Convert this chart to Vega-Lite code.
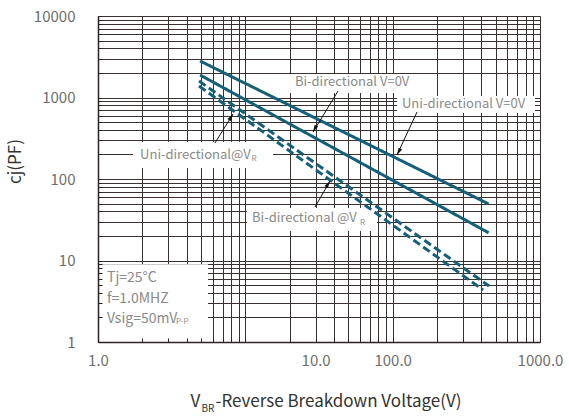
{
  "$schema": "https://vega.github.io/schema/vega-lite/v6.json",
  "width": 442,
  "height": 326,
  "autosize": "none",
  "padding": {"left": 98, "top": 16, "right": 29, "bottom": 74},
  "background": "white",
  "config": {"view": {"stroke": null}, "font": "Noto Sans CJK SC"},
  "datasets": {
    "curves": [
      {"series": "Uni-directional V=0V", "v": 4.93, "c": 2805},
      {"series": "Uni-directional V=0V", "v": 448, "c": 49.4},
      {"series": "Bi-directional V=0V", "v": 4.93, "c": 1888},
      {"series": "Bi-directional V=0V", "v": 448, "c": 21.9},
      {"series": "Uni-directional@VR", "v": 4.85, "c": 1593},
      {"series": "Uni-directional@VR", "v": 451, "c": 4.86},
      {"series": "Bi-directional @VR", "v": 4.85, "c": 1384},
      {"series": "Bi-directional @VR", "v": 411, "c": 4.35}
    ],
    "boxes": [
      {"box": "Bi-directional V=0V", "v1": 19.2, "v2": 139.6, "c1": 1943, "c2": 1136},
      {"box": "Uni-directional V=0V", "v1": 107, "v2": 925, "c1": 1043, "c2": 645},
      {"box": "Uni-directional@VR", "v1": 1.728, "v2": 15.4, "c1": 284.5, "c2": 136.4},
      {"box": "Bi-directional @VR", "v1": 10.26, "v2": 78.3, "c1": 44.1, "c2": 23.0},
      {"box": "conditions", "v1": 1, "v2": 5.58, "c1": 1, "c2": 9}
    ],
    "texts": [
      {"group": "ann", "text": "Bi-directional V=0V", "v": 21.7, "c": 1549},
      {"group": "ann", "text": "Uni-directional V=0V", "v": 115.7, "c": 832},
      {"group": "ann", "text": "Uni-directional@V", "v": 1.93, "c": 197},
      {"group": "ann", "text": "Bi-directional @V", "v": 11.1, "c": 33.2},
      {"group": "cond", "text": "Tj=25°C", "v": 1.151, "c": 6.1},
      {"group": "cond", "text": "f=1.0MHZ", "v": 1.151, "c": 3.37},
      {"group": "cond", "text": "Vsig=50mV", "v": 1.151, "c": 1.915},
      {"group": "sub", "text": "R", "v": 11.0, "c": 178.4},
      {"group": "sub", "text": "R", "v": 60.0, "c": 28.8},
      {"group": "sub", "text": "P-P", "v": 3.38, "c": 1.76}
    ],
    "arrows": [
      {"arrow": "a1", "dir": "down", "v1": 42.6, "c1": 1202, "v2": 28.8, "c2": 377},
      {"arrow": "a2", "dir": "down", "v1": 146.3, "c1": 664, "v2": 107, "c2": 197},
      {"arrow": "a3", "dir": "up", "v1": 6.22, "c1": 276.5, "v2": 8.25, "c2": 627},
      {"arrow": "a4", "dir": "up", "v1": 29.7, "c1": 45.3, "v2": 37.6, "c2": 94.5}
    ]
  },
  "resolve": {"axis": {"x": "independent", "y": "independent"}},
  "layer": [
    {
      "data": {"name": "boxes"},
      "mark": {"type": "rect", "fill": "white", "strokeWidth": 0},
      "encoding": {
        "x": {"field": "v1", "type": "quantitative",
          "scale": {"type": "log", "domain": [1, 1000], "nice": false},
          "axis": {"orient": "bottom", "grid": true, "values": [1,2,3,4,5,6,7,8,9,10,20,30,40,50,60,70,80,90,100,200,300,400,500,600,700,800,900,1000],
            "gridColor": "#3b3131", "gridWidth": 1, "gridOpacity": 1, "ticks": false, "labels": false, "domain": false, "title": null, "zindex": 0}},
        "x2": {"field": "v2"},
        "y": {"field": "c1", "type": "quantitative",
          "scale": {"type": "log", "domain": [1, 10000], "nice": false},
          "axis": {"orient": "left", "grid": true, "values": [1,2,3,4,5,6,7,8,9,10,20,30,40,50,60,70,80,90,100,200,300,400,500,600,700,800,900,1000,2000,3000,4000,5000,6000,7000,8000,9000,10000],
            "gridColor": "#3b3131", "gridWidth": 1, "gridOpacity": 1, "ticks": false, "labels": false, "domain": false, "title": null, "zindex": 0}},
        "y2": {"field": "c2"}
      }
    },
    {
      "data": {"name": "curves"},
      "mark": {"type": "line", "color": "#14607a", "strokeWidth": 3, "strokeCap": "butt"},
      "encoding": {
        "x": {"field": "v", "type": "quantitative",
          "scale": {"type": "log", "domain": [1, 1000], "nice": false},
          "axis": {"orient": "bottom", "grid": false, "values": [1,2,3,4,5,6,7,8,9,10,20,30,40,50,60,70,80,90,100,200,300,400,500,600,700,800,900,1000],
            "domainColor": "#2b2323", "domainWidth": 1.5, "tickColor": "#2b2323", "tickSize": -4, "tickWidth": 1,
            "labelExpr": "datum.value == 1 ? '1.0' : datum.value == 30 ? '10.0' : datum.value == 100 ? '100.0' : datum.value == 1000 ? '1000.0' : ''",
            "labelFlush": false, "labelOverlap": false, "labelBound": false, "labelFontSize": 15, "labelColor": "#6e6e6e", "labelPadding": 15,
            "title": "-Reverse Breakdown Voltage(V)", "titleX": 117, "titleY": 59, "titleAlign": "left", "titleBaseline": "middle",
            "titleFontSize": 17, "titleFontWeight": "normal", "titleColor": "#333333", "zindex": 1}},
        "y": {"field": "c", "type": "quantitative",
          "scale": {"type": "log", "domain": [1, 10000], "nice": false},
          "axis": {"orient": "left", "grid": false, "values": [1,2,3,4,5,6,7,8,9,10,20,30,40,50,60,70,80,90,100,200,300,400,500,600,700,800,900,1000,2000,3000,4000,5000,6000,7000,8000,9000,10000],
            "domainColor": "#2b2323", "domainWidth": 1.5, "tickColor": "#2b2323", "tickSize": -4, "tickWidth": 1,
            "labelExpr": "indexof([1,10,100,1000,10000], datum.value) >= 0 ? format(datum.value, 'd') : ''",
            "labelOverlap": false, "labelBound": false, "labelFontSize": 15, "labelColor": "#6e6e6e", "labelPadding": 27,
            "title": "cj(PF)", "titleX": -83, "titleY": 145, "titleAngle": 270, "titleAlign": "center", "titleBaseline": "middle",
            "titleFontSize": 17, "titleFontWeight": "normal", "titleColor": "#333333", "zindex": 1}},
        "detail": {"field": "series"},
        "strokeDash": {"field": "series", "type": "nominal",
          "scale": {"domain": ["Uni-directional V=0V", "Bi-directional V=0V", "Uni-directional@VR", "Bi-directional @VR"],
            "range": [[1, 0], [1, 0], [8, 4], [8, 4]]}, "legend": null}
      }
    },
    {
      "data": {"name": "arrows"},
      "mark": {"type": "rule", "color": "#111111", "strokeWidth": 1},
      "encoding": {
        "x": {"field": "v1", "type": "quantitative", "scale": {"type": "log", "domain": [1, 1000], "nice": false},
          "axis": {"orient": "bottom", "grid": false, "domain": false, "ticks": false, "labels": false,
            "title": "V", "titleX": 92, "titleY": 59, "titleAlign": "left", "titleBaseline": "middle",
            "titleFontSize": 17, "titleFontWeight": "normal", "titleColor": "#333333"}},
        "x2": {"field": "v2"},
        "y": {"field": "c1", "type": "quantitative", "scale": {"type": "log", "domain": [1, 10000], "nice": false}, "axis": null},
        "y2": {"field": "c2"}
      }
    },
    {
      "data": {"name": "arrows"},
      "transform": [{"filter": "datum.dir == 'down'"}],
      "mark": {"type": "point", "shape": "M0,0L0.5,1.8L-0.5,1.8Z", "filled": true, "color": "#111111", "size": 64, "angle": 208, "opacity": 1},
      "encoding": {
        "x": {"field": "v2", "type": "quantitative", "scale": {"type": "log", "domain": [1, 1000], "nice": false},
          "axis": {"orient": "bottom", "grid": false, "domain": false, "ticks": false, "labels": false,
            "title": "BR", "titleX": 103, "titleY": 66, "titleAlign": "left", "titleBaseline": "middle",
            "titleFontSize": 10, "titleFontWeight": "normal", "titleColor": "#333333"}},
        "y": {"field": "c2", "type": "quantitative", "scale": {"type": "log", "domain": [1, 10000], "nice": false}, "axis": null}
      }
    },
    {
      "data": {"name": "arrows"},
      "transform": [{"filter": "datum.dir == 'up'"}],
      "mark": {"type": "point", "shape": "M0,0L0.5,1.8L-0.5,1.8Z", "filled": true, "color": "#111111", "size": 64, "angle": 33, "opacity": 1},
      "encoding": {
        "x": {"field": "v2", "type": "quantitative", "scale": {"type": "log", "domain": [1, 1000], "nice": false}, "axis": null},
        "y": {"field": "c2", "type": "quantitative", "scale": {"type": "log", "domain": [1, 10000], "nice": false}, "axis": null}
      }
    },
    {
      "data": {"name": "texts"},
      "transform": [{"filter": "datum.group == 'ann'"}],
      "mark": {"type": "text", "align": "left", "baseline": "middle", "fontSize": 13, "fill": "#8a8a8a"},
      "encoding": {
        "x": {"field": "v", "type": "quantitative", "scale": {"type": "log", "domain": [1, 1000], "nice": false}, "axis": null},
        "y": {"field": "c", "type": "quantitative", "scale": {"type": "log", "domain": [1, 10000], "nice": false}, "axis": null},
        "text": {"field": "text"}
      }
    },
    {
      "data": {"name": "texts"},
      "transform": [{"filter": "datum.group == 'cond'"}],
      "mark": {"type": "text", "align": "left", "baseline": "middle", "fontSize": 14, "fill": "#8a8a8a"},
      "encoding": {
        "x": {"field": "v", "type": "quantitative", "scale": {"type": "log", "domain": [1, 1000], "nice": false}, "axis": null},
        "y": {"field": "c", "type": "quantitative", "scale": {"type": "log", "domain": [1, 10000], "nice": false}, "axis": null},
        "text": {"field": "text"}
      }
    },
    {
      "data": {"name": "texts"},
      "transform": [{"filter": "datum.group == 'sub'"}],
      "mark": {"type": "text", "align": "left", "baseline": "middle", "fontSize": 8, "fill": "#8a8a8a"},
      "encoding": {
        "x": {"field": "v", "type": "quantitative", "scale": {"type": "log", "domain": [1, 1000], "nice": false}, "axis": null},
        "y": {"field": "c", "type": "quantitative", "scale": {"type": "log", "domain": [1, 10000], "nice": false}, "axis": null},
        "text": {"field": "text"}
      }
    }
  ]
}
